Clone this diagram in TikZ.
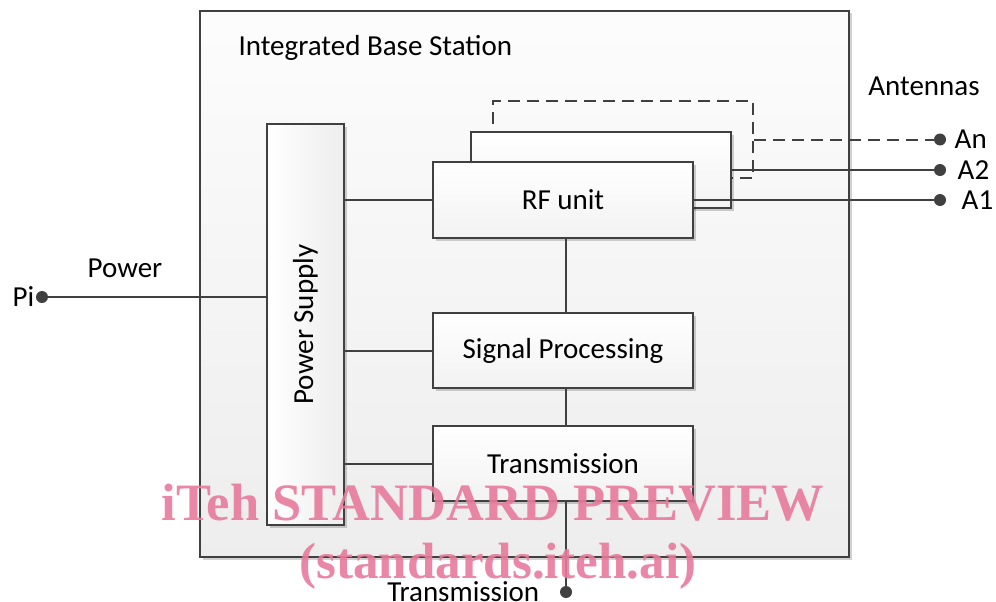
\documentclass[tikz,border=0pt]{standalone}
\usepackage{fontspec}
\setmainfont{Carlito}
\newfontfamily\markfont{Liberation Serif}
\usetikzlibrary{shadows}
\definecolor{edge}{RGB}{64,64,64}
\definecolor{markpink}{RGB}{232,122,156}

\begin{document}
\begin{tikzpicture}[x=1pt, y=-1pt,
  shade/.style = {drop shadow={shadow xshift=2.5pt, shadow yshift=-2.5pt, opacity=0.18, fill=black}},
  unit/.style = {rectangle, draw=edge, line width=2pt, top color=white, bottom color=black!5,
                 inner sep=0pt, minimum width=260pt, minimum height=76pt, shade},
  port/.style = {circle, fill=edge, inner sep=0pt, minimum size=12pt},
  wire/.style = {draw=edge, line width=2pt},
  font=\fontsize{29}{35}\selectfont]
  \useasboundingbox (0, 0) rectangle (996, 602);

  % Station.
  \node at (524.5, 284) [rectangle, draw=edge, line width=2pt, top color=black!1, bottom color=black!7,
        inner sep=0pt, minimum width=649pt, minimum height=546pt, shade, name=Station] {};
  \node at (235, 48) [anchor=west, name=StationLabel] {Integrated Base Station};

  % Units.
  \node at (305.5, 324.5) [rectangle, draw=edge, line width=2pt, left color=white, right color=black!7,
        inner sep=0pt, minimum width=77pt, minimum height=401pt, shade, name=Supply]
        {\rotatebox{90}{Power Supply}};
  \node at (623, 139.5) [rectangle, draw=edge, line width=2pt, dashed, dash pattern=on 12pt off 7pt,
        inner sep=0pt, minimum width=260pt, minimum height=77pt, name=RFthird] {};
  \node at (601, 170) [unit, name=RFsecond] {};
  \node at (563, 200) [unit, name=RFunit] {RF unit};
  \node at (563, 350.5) [unit, minimum height=75pt, name=Signal] {Signal Processing};
  \node at (563, 463.5) [unit, minimum height=75pt, name=Trans] {Transmission};

  % Ports.
  \node at (42, 297) [port, name=Pi] {};
  \node at (940, 139.5) [port, name=An] {};
  \node at (940, 170) [port, name=Atwo] {};
  \node at (940, 200) [port, name=Aone] {};
  \node at (566, 592) [port, name=Tx] {};

  \node at (Pi.west) [anchor=east, xshift=2pt, name=PiLabel] {Pi};
  \node at (125, 268) [name=PowerLabel] {Power};
  \node at (924, 86) [name=AntennaLabel] {Antennas};
  \node at (An.east) [anchor=west, xshift=5pt, name=AnLabel] {An};
  \node at (Atwo.east) [anchor=west, xshift=8pt, name=AtwoLabel] {A2};
  \node at (Aone.east) [anchor=west, xshift=12pt, name=AoneLabel] {A1};
  \node at (Tx.west) [anchor=east, xshift=-17pt, name=TxLabel] {Transmission};

  % Power feed.
  \draw [wire] (Pi) -- (Supply.west |- Pi);
  \draw [wire] (Supply.east |- RFunit) -- (RFunit.west);
  \draw [wire] (Supply.east |- Signal) -- (Signal.west);
  \draw [wire] (Supply.east |- Trans) -- (Trans.west);

  % Signal chain.
  \draw [wire] (RFunit.south -| Tx) -- (Signal.north -| Tx);
  \draw [wire] (Signal.south -| Tx) -- (Trans.north -| Tx);
  \draw [wire] (Trans.south -| Tx) -- (Tx);

  % Antennas.
  \draw [wire] (RFunit.east) -- (Aone);
  \draw [wire] (RFsecond.east) -- (Atwo);
  \draw [wire, dash pattern=on 12pt off 7pt] (RFthird.east) -- (An);

  % Watermark.
  \node at (493, 520) [anchor=base, text=markpink, opacity=0.9,
        font=\markfont\bfseries\fontsize{52.5}{60}\selectfont, name=MarkTop] {iTeh STANDARD PREVIEW};
  \node at (498, 578) [anchor=base, text=markpink, opacity=0.9,
        font=\markfont\bfseries\fontsize{51}{60}\selectfont, name=MarkBottom] {(standards.iteh.ai)};
\end{tikzpicture}
\end{document}
